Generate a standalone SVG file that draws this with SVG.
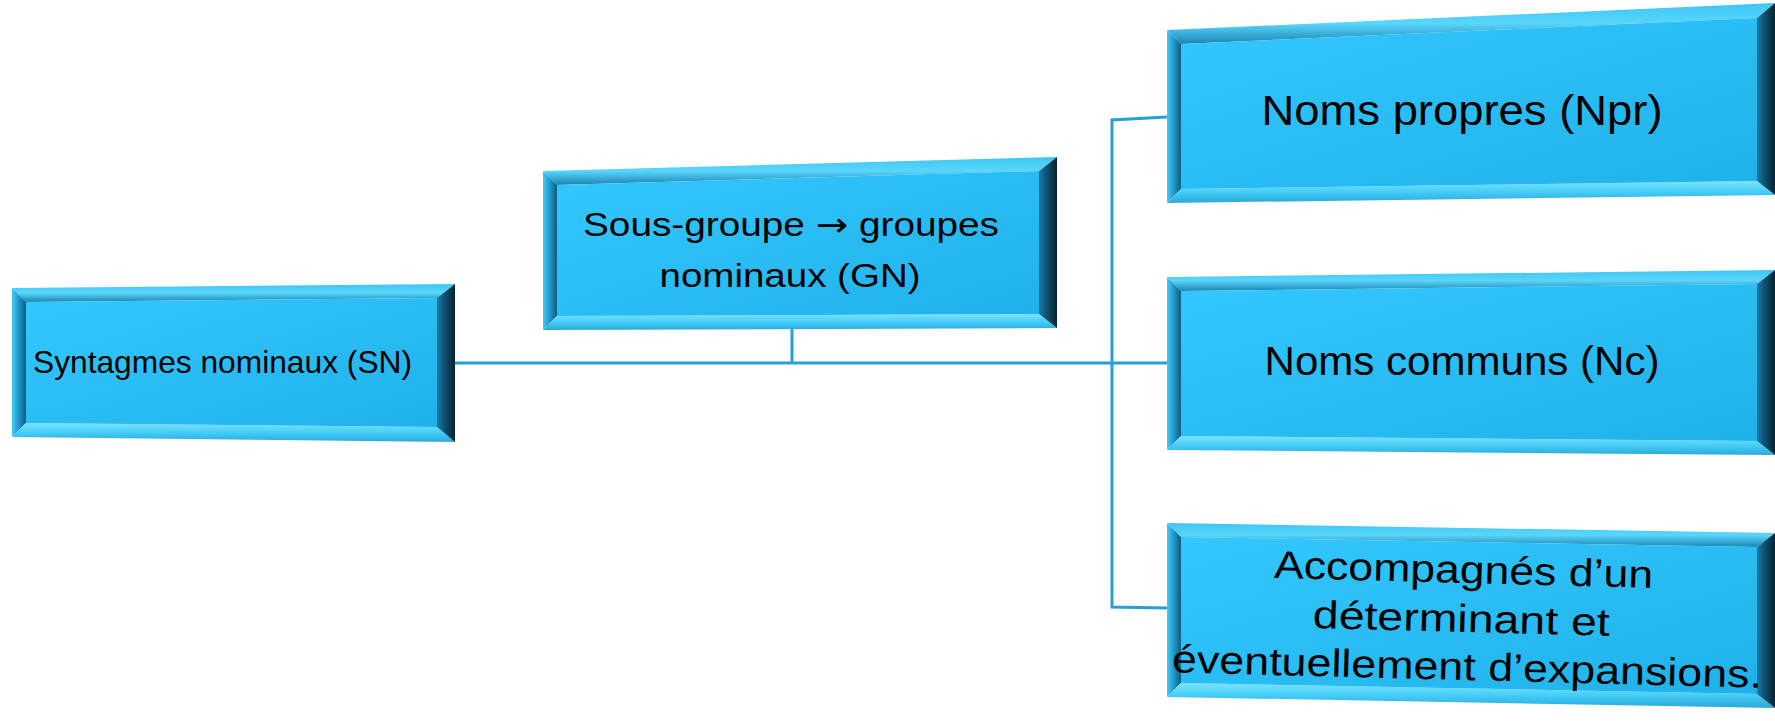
<svg xmlns="http://www.w3.org/2000/svg" width="1775" height="721" viewBox="0 0 1775 721">
  <defs>
    <linearGradient id="face" x1="0" y1="0" x2="1" y2="1">
      <stop offset="0" stop-color="#33c8fd"/>
      <stop offset="1" stop-color="#1fb2ea"/>
    </linearGradient>
    <linearGradient id="rside" x1="0" y1="0" x2="1" y2="0">
      <stop offset="0" stop-color="#1a7ba6"/>
      <stop offset="0.4" stop-color="#0f5474"/>
      <stop offset="1" stop-color="#06222f"/>
    </linearGradient>
    <linearGradient id="gtop" x1="0" y1="0" x2="0" y2="1">
      <stop offset="0" stop-color="#3cc6f2"/>
      <stop offset="0.5" stop-color="#5ad6fb"/>
      <stop offset="1" stop-color="#1a84b2"/>
    </linearGradient>
    <linearGradient id="gleft" x1="0" y1="0" x2="1" y2="0">
      <stop offset="0" stop-color="#45cbf5"/>
      <stop offset="0.45" stop-color="#1f9cd0"/>
      <stop offset="1" stop-color="#0e5c7f"/>
    </linearGradient>
    <linearGradient id="gbot" x1="0" y1="0" x2="0" y2="1">
      <stop offset="0" stop-color="#7ae4ff"/>
      <stop offset="0.5" stop-color="#45cdf8"/>
      <stop offset="1" stop-color="#2aa9d8"/>
    </linearGradient>
    <style>
      .top{fill:url(#gtop)}
      .left{fill:url(#gleft)}
      .bot{fill:url(#gbot)}
      .right{fill:url(#rside)}
      .face{fill:url(#face)}
      .t{font-family:"Liberation Sans",Arial,sans-serif;fill:#000;text-anchor:middle}
      .ar{font-family:"DejaVu Sans",sans-serif}
      .conn{fill:none;stroke:#2a9fd2;stroke-width:3}
    </style>
  </defs>
  <rect width="1775" height="721" fill="#ffffff"/>

  <g id="connectors">
    <line class="conn" x1="455" y1="363" x2="1167" y2="363"/>
    <line class="conn" x1="792" y1="329" x2="792" y2="363"/>
    <polyline class="conn" points="1167,117 1112,120 1112,607 1167,608"/>
  </g>

  <g id="node-sn">
    <polygon class="top" points="12,288 455,284 437,298 26,302"/>
    <polygon class="left" points="12,288 26,302 26,423 12,437"/>
    <polygon class="bot" points="12,437 26,423 437,427 455,442"/>
    <polygon class="right" points="455,284 455,442 437,427 437,298"/>
    <polygon class="face" points="26,302 437,298 437,427 26,423"/>
    <text class="t" x="222.5" y="373" font-size="32" textLength="379" lengthAdjust="spacingAndGlyphs">Syntagmes nominaux (SN)</text>
  </g>

  <g id="node-gn">
    <polygon class="top" points="543,171 1057,157 1039,171 557,185"/>
    <polygon class="left" points="543,171 557,185 557,316 543,330"/>
    <polygon class="bot" points="543,330 557,316 1039,314 1057,328"/>
    <polygon class="right" points="1057,157 1057,328 1039,314 1039,171"/>
    <polygon class="face" points="557,185 1039,171 1039,314 557,316"/>
    <text class="t" x="791" y="236" font-size="33" textLength="416" lengthAdjust="spacingAndGlyphs">Sous-groupe <tspan class="ar">→</tspan> groupes</text>
    <text class="t" x="790" y="287" font-size="33" textLength="261" lengthAdjust="spacingAndGlyphs">nominaux (GN)</text>
  </g>

  <g id="node-npr">
    <polygon class="top" points="1167,30 1775,3 1757,18 1181,44"/>
    <polygon class="left" points="1167,30 1181,44 1181,189 1167,203"/>
    <polygon class="bot" points="1167,203 1181,189 1757,181 1775,195"/>
    <polygon class="right" points="1775,3 1775,195 1757,181 1757,18"/>
    <polygon class="face" points="1181,44 1757,18 1757,181 1181,189"/>
    <text class="t" x="1462" y="125" font-size="42" textLength="401" lengthAdjust="spacingAndGlyphs">Noms propres (Npr)</text>
  </g>

  <g id="node-nc">
    <polygon class="top" points="1167,277 1775,270 1757,284 1181,291"/>
    <polygon class="left" points="1167,277 1181,291 1181,436 1167,450"/>
    <polygon class="bot" points="1167,450 1181,436 1757,441 1775,455"/>
    <polygon class="right" points="1775,270 1775,455 1757,441 1757,284"/>
    <polygon class="face" points="1181,291 1757,284 1757,441 1181,436"/>
    <text class="t" x="1462" y="375" font-size="41" textLength="395" lengthAdjust="spacingAndGlyphs">Noms communs (Nc)</text>
  </g>

  <g id="node-acc">
    <polygon class="top" points="1167,523 1775,533 1757,547 1181,537"/>
    <polygon class="left" points="1167,523 1181,537 1181,683 1167,697"/>
    <polygon class="bot" points="1167,697 1181,683 1757,694 1775,708"/>
    <polygon class="right" points="1775,533 1775,708 1757,694 1757,547"/>
    <polygon class="face" points="1181,537 1757,547 1757,694 1181,683"/>
    <g transform="rotate(1.5 1465 632)">
      <text class="t" x="1462" y="583" font-size="39" textLength="379" lengthAdjust="spacingAndGlyphs">Accompagnés d’un</text>
      <text class="t" x="1461" y="632" font-size="39" textLength="297" lengthAdjust="spacingAndGlyphs">déterminant et</text>
      <text class="t" x="1468" y="680" font-size="39" textLength="590" lengthAdjust="spacingAndGlyphs">éventuellement d’expansions.</text>
    </g>
  </g>
</svg>
